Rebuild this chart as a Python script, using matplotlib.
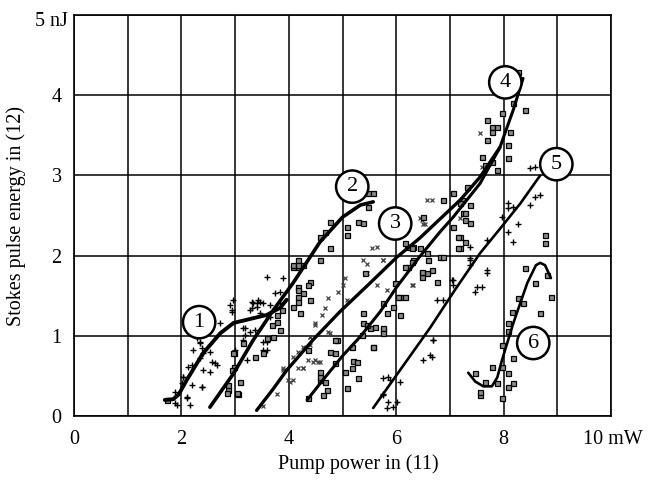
import matplotlib
matplotlib.use("Agg")
import matplotlib.pyplot as plt
import matplotlib.transforms as mtransforms
import numpy as np

plt.rcParams['font.family'] = ['Liberation Serif', 'DejaVu Serif']

# fitted curves
c1_x = [1.69, 1.85, 1.95, 2.1, 2.4, 2.72, 2.97, 3.34, 3.59, 3.84, 3.96]
c1_y = [0.2, 0.21, 0.27, 0.45, 0.78, 1.03, 1.16, 1.22, 1.26, 1.35, 1.45]
c2_x = [2.53, 2.97, 3.34, 3.71, 4.08, 4.58, 5.0, 5.33, 5.57]
c2_y = [0.11, 0.53, 0.95, 1.32, 1.66, 2.17, 2.48, 2.63, 2.67]
c3_x = [3.4, 3.7, 3.96, 4.45, 4.95, 5.5, 6.01, 6.44, 6.82, 7.2, 7.56, 7.93]
c3_y = [0.07, 0.33, 0.57, 0.95, 1.3, 1.65, 1.98, 2.22, 2.46, 2.7, 2.98, 3.35]
c4_x = [4.34, 4.6, 5.0, 5.33, 5.7, 6.01, 6.44, 6.82, 7.06, 7.56, 7.93, 8.18, 8.36]
c4_y = [0.2, 0.42, 0.75, 0.99, 1.3, 1.61, 1.99, 2.3, 2.48, 2.9, 3.35, 3.82, 4.21]
c5_x = [5.57, 6.1, 6.63, 7.1, 7.56, 7.95, 8.31, 8.68]
c5_y = [0.1, 0.6, 1.1, 1.58, 2.03, 2.35, 2.65, 3.0]
c6_x = [7.34, 7.47, 7.62, 7.78, 7.88, 7.97, 8.18, 8.44, 8.6, 8.68, 8.77, 8.88]
c6_y = [0.54, 0.43, 0.37, 0.37, 0.48, 0.7, 1.16, 1.66, 1.88, 1.91, 1.88, 1.72]

# measured points, "+" markers
plus_x = [2.9, 2.94, 2.72, 2.35, 2.38, 2.35, 2.57, 2.66, 2.12, 2.03, 2.01, 2.2, 2.38,
          1.88, 2.1, 2.16, 3.59, 3.31, 3.46, 3.15, 3.28, 3.22, 3.59, 3.52, 3.84, 3.65,
          3.41, 3.9, 3.4, 3.28,
          2.96, 2.94, 3.34, 3.43, 3.52, 3.31, 3.74, 3.84, 3.46, 3.65, 3.18, 3.18, 3.37,
          3.52, 3.59, 3.0, 3.15,
          2.29, 2.35, 2.22, 2.4, 2.53, 2.63, 2.2, 2.4, 2.53, 2.03, 2.38, 1.88, 2.1, 1.92,
          5.76, 5.85, 6.07, 5.76, 5.83, 6.01, 6.67, 6.5, 6.69, 6.63, 6.69, 6.76, 6.87,
          7.06, 7.06, 7.37, 7.37, 7.69, 7.69, 7.47, 7.6, 7.37, 8.08, 8.08, 8.18, 8.49,
          8.59, 8.68, 8.49, 8.59, 8.27, 8.08, 8.18, 7.69, 7.97,
          5.88, 5.75, 5.85, 5.94, 7.37, 7.04, 7.5]
plus_y = [1.38, 1.3, 1.16, 0.92, 0.85, 0.72, 0.67, 0.64, 0.61, 0.49, 0.41, 0.39, 0.36,
          0.16, 0.24, 0.14, 1.73, 1.42, 1.42, 1.1, 1.05, 0.7, 0.92, 0.82, 1.41, 1.38,
          1.36, 1.72, 1.41, 1.32,
          1.45, 1.32, 1.41, 1.45, 1.41, 1.35, 1.53, 1.55, 1.28, 1.23, 1.1, 1.01, 1.07,
          0.92, 0.82, 0.82, 0.95,
          0.97, 0.91, 0.82, 0.78, 0.8, 0.66, 0.64, 0.57, 0.55, 0.49, 0.36, 0.3, 0.22, 0.14,
          0.47, 0.49, 0.42, 0.28, 0.1, 0.17, 0.74, 0.7, 0.95, 0.76, 0.95, 1.45, 1.45,
          1.7, 1.63, 1.88, 1.95, 1.78, 1.82, 1.55, 1.61, 2.11, 2.65, 2.59, 2.61, 2.63,
          2.73, 2.76, 3.09, 3.11, 2.4, 2.29, 2.17, 2.19, 2.48,
          0.45, 0.26, 0.17, 0.11, 1.97, 1.7, 1.61]

# "x" markers
cross_x = [6.57, 6.67, 6.48, 6.54, 5.55, 5.64, 5.38, 5.45, 5.76, 5.45, 5.05, 5.01, 4.92,
           5.08, 4.73, 4.67, 4.62, 4.49, 4.73, 4.39, 4.17, 4.36, 4.49, 4.58, 4.27, 3.89,
           4.02, 3.78, 3.52, 4.77, 6.32, 5.64, 6.16, 7.56, 7.6,
           4.49, 4.39, 4.08, 4.27, 4.39, 4.17, 4.27, 4.45, 4.54, 3.99, 4.08, 3.89, 4.77,
           6.44, 6.5, 7.19, 5.75, 5.83, 6.29]
cross_y = [2.69, 2.69, 2.44, 2.4, 2.09, 2.11, 1.95, 1.9, 1.95, 1.78, 1.72, 1.63, 1.55,
           1.45, 1.47, 1.35, 1.26, 1.16, 1.05, 0.99, 0.8, 0.7, 0.7, 0.67, 0.6, 0.6,
           0.42, 0.28, 0.12, 0.79, 1.63, 1.63, 1.49, 3.53, 3.1,
           1.13, 0.99, 0.74, 0.86, 0.89, 0.6, 0.6, 0.67, 0.67, 0.45, 0.45, 0.57, 1.03,
           2.47, 2.4, 2.47, 1.95, 1.57, 1.63]

# square markers
sq_x = [5.48, 5.57, 5.47, 5.29, 5.38, 5.08, 5.08, 4.77, 4.67, 4.58, 4.77, 4.58, 4.17,
        4.17, 4.08, 4.26, 4.39, 4.17, 4.17, 4.39, 4.08, 4.21, 3.71, 2.97, 2.97, 2.87,
        3.06, 3.37, 3.52, 3.78, 3.84, 4.17, 4.08,
        4.17, 4.36, 4.26, 4.17, 3.87, 3.78, 3.69, 3.59,
        2.96, 2.94, 3.09, 2.87, 2.85, 3.04, 3.15, 1.73,
        4.36, 4.58, 4.71, 4.9, 5.18, 5.2, 5.29, 5.38, 5.38, 5.51, 5.6, 5.75, 5.57,
        5.83, 5.75, 6.07, 5.94, 6.07, 6.48, 6.48, 6.57, 5.42, 6.22, 6.2, 6.32, 6.57,
        6.32, 7.69, 7.78, 7.88, 7.78, 7.6, 7.65, 7.78, 7.88, 7.69, 7.97, 8.12, 8.08,
        8.08, 8.18, 8.4, 8.27, 7.31, 7.22, 7.19, 7.06, 7.24, 7.06, 7.19, 7.28, 7.19,
        6.87, 6.5,
        4.36, 4.58, 4.58, 4.67, 4.64, 4.86, 4.77, 4.86, 4.86, 5.05, 5.18, 5.08, 5.27,
        5.57, 5.46, 5.75, 5.75, 5.36,
        7.28, 7.28, 7.37, 7.15, 7.15, 6.16, 6.29, 6.44, 7.37, 6.82, 6.87, 6.59, 6.48,
        6.67, 6.76, 6.16, 6.29, 5.98, 6.03, 6.16,
        8.4, 8.59, 8.8, 8.88, 8.27, 8.36, 8.16, 8.68, 8.08, 8.08, 7.97, 8.18, 7.78,
        7.97, 8.08, 7.47, 7.88, 8.18, 8.08, 7.56, 7.56, 7.65, 7.97, 8.77, 8.77]
sq_y = [2.78, 2.78, 2.61, 2.42, 2.41, 2.36, 2.26, 2.42, 2.29, 2.23, 2.09, 1.95, 1.95,
        1.86, 1.86, 1.88, 1.67, 1.61, 1.48, 1.45, 1.36, 1.28, 0.99, 0.78, 0.61, 0.32,
        0.28, 0.74, 0.78, 1.26, 1.07, 1.57, 1.88,
        1.88, 1.63, 1.53, 1.42, 1.32, 1.17, 1.13, 0.97,
        0.78, 0.57, 0.42, 0.39, 0.29, 0.29, 0.91, 0.2,
        0.23, 0.45, 0.33, 0.95, 0.86, 0.68, 0.47, 1.28, 1.16, 1.1, 1.11, 1.07, 0.86,
        1.28, 1.41, 1.48, 1.36, 1.26, 1.78, 1.73, 1.78, 1.78, 1.86, 2.11, 2.11, 2.03,
        1.95, 3.69, 3.6, 3.6, 3.54, 3.23, 3.13, 3.17, 3.07, 3.44, 3.78, 3.54, 3.38,
        3.22, 3.9, 3.82, 4.29, 2.86, 2.69, 2.66, 2.78, 2.53, 2.36, 2.23, 2.17, 2.09,
        2.69, 2.48,
        0.82, 0.55, 0.49, 0.42, 0.26, 0.95, 0.8, 0.78, 0.66, 0.55, 0.6, 0.35, 0.67,
        0.86, 1.13, 1.1, 1.03, 1.01,
        2.53, 2.44, 2.41, 2.23, 2.09, 2.16, 2.09, 2.09, 2.63, 1.98, 1.98, 1.95, 1.8,
        1.82, 1.67, 1.86, 1.92, 1.66, 1.49, 1.49,
        1.85, 1.66, 1.76, 1.48, 1.47, 1.41, 1.3, 1.28, 1.16, 1.06, 0.89, 0.72, 0.61,
        0.61, 0.54, 0.54, 0.41, 0.41, 0.36, 0.26, 0.3, 0.42, 0.22, 2.16, 2.26]

# circled curve numbers
lab_text = ['1', '2', '3', '4', '5', '6']
lab_x = [2.33, 5.18, 5.98, 8.03, 8.98, 8.55]
lab_y = [1.17, 2.86, 2.4, 4.16, 3.14, 0.91]

fig = plt.figure(figsize=(6.55, 4.84), dpi=100)
ax = fig.add_axes([0.113, 0.1405, 0.82, 0.8285])

ax.plot(plus_x, plus_y, '+', color='black', ms=4.5, mew=1.0)
ax.plot(cross_x, cross_y, 'x', color='#404040', ms=3.4, mew=0.9)
ax.plot(sq_x, sq_y, 's', mfc='#8a8a8a', mec='black', ms=3.6, mew=0.9)

for cx, cy, lw in [(c1_x, c1_y, 2.8), (c2_x, c2_y, 2.6), (c3_x, c3_y, 2.4),
                   (c4_x, c4_y, 2.2), (c5_x, c5_y, 1.9), (c6_x, c6_y, 1.9)]:
    ax.plot(cx, cy, '-', color='black', lw=lw, solid_capstyle='round')

for t, x, y in zip(lab_text, lab_x, lab_y):
    ax.text(x, y, t, fontsize=16, ha='center', va='center',
            bbox=dict(boxstyle='circle,pad=0.3', fc='white', ec='black', lw=1.8))

ax.set_xlim(0, 10)
ax.set_ylim(0, 5)
ax.set_xticks(np.arange(0, 11, 1))
ax.grid(True, color='black', lw=1.1)
ax.set_axisbelow(True)
for s in ax.spines.values():
    s.set_linewidth(1.2)

ax.tick_params(length=0, labelsize=14.5)
ax.tick_params(axis='x', pad=10)
ax.tick_params(axis='y', pad=9)
ax.set_xticklabels(['0', '', '2', '', '4', '', '6', '', '8', '', '10 mW'])
ax.set_yticks([0, 1, 2, 3, 4, 5])
ax.set_yticklabels(['0', '1', '2', '3', '4', '5 nJ'])

# shift the unit labels like in the original
xl = ax.get_xticklabels()[-1]
xl.set_horizontalalignment('left')
xl.set_transform(xl.get_transform() + mtransforms.ScaledTranslation(-28 / 100, 0, fig.dpi_scale_trans))
yl = ax.get_yticklabels()[-1]
yl.set_transform(yl.get_transform() + mtransforms.ScaledTranslation(6 / 100, -4 / 100, fig.dpi_scale_trans))

ax.set_xlabel('Pump power in (11)', fontsize=14.5, x=0.53, labelpad=4)
ax.set_ylabel('Stokes pulse energy in (12)', fontsize=14.5, labelpad=6)

fig.savefig('out.png', dpi=100)
